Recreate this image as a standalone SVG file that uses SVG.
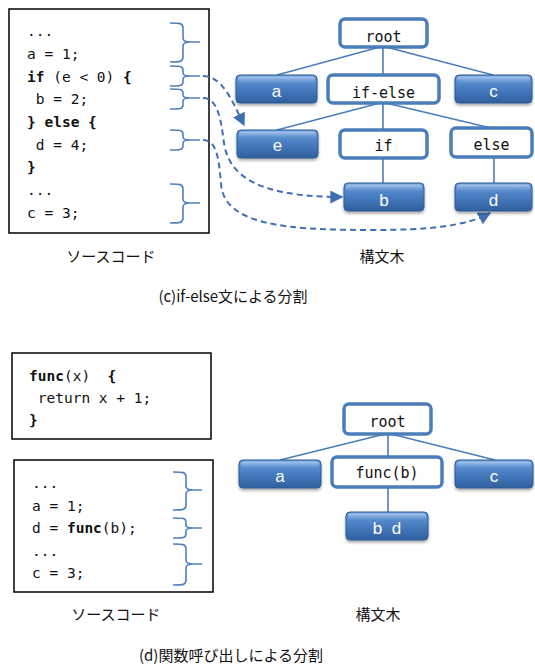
<svg xmlns="http://www.w3.org/2000/svg" width="535" height="666" viewBox="0 0 535 666">
  <defs>
    <style>
      .codebox { fill: #fff; stroke: #000; stroke-width: 1.5; }
      .code { font-family: "DejaVu Sans Mono", "Liberation Mono", monospace; font-size: 14.5px; fill: #111; }
      .b { font-weight: bold; }
      .brace { fill: none; stroke: #4f81bd; stroke-width: 1.6; }
      .edge { fill: none; stroke: #4a7ebb; stroke-width: 1.6; }
      .flow { fill: none; stroke: #3f6fb3; stroke-width: 2; stroke-dasharray: 6 4; }
      .inner rect { fill: #fff; stroke: #4a7ebb; stroke-width: 3.5; }
      .inner text { font-family: "DejaVu Sans Mono", "Liberation Mono", monospace; font-size: 15px; fill: #111; text-anchor: middle; }
      .leaf .body { fill: url(#leafFill); stroke: #2d5b93; stroke-width: 1; filter: url(#shadow); }
      .leaf .bevel { fill: url(#bevelFill); }
      .leaf text { font-family: "Liberation Sans", Arial, sans-serif; font-size: 17px; fill: #fff; text-anchor: middle; }
      .caption { font-family: "Noto Sans CJK JP", sans-serif; font-size: 15px; fill: #111; text-anchor: middle; }
    </style>
    <linearGradient id="leafFill" x1="0" y1="0" x2="0" y2="1">
      <stop offset="0" stop-color="#6c9ddb"/>
      <stop offset="0.45" stop-color="#4a7fc2"/>
      <stop offset="1" stop-color="#2f5f9e"/>
    </linearGradient>
    <linearGradient id="bevelFill" x1="0" y1="0" x2="0" y2="1">
      <stop offset="0" stop-color="#b6d0f0" stop-opacity="0.85"/>
      <stop offset="1" stop-color="#7ea8de" stop-opacity="0"/>
    </linearGradient>
    <filter id="shadow" x="-10%" y="-20%" width="120%" height="150%">
      <feDropShadow dx="0" dy="2" stdDeviation="1.5" flood-color="#000" flood-opacity="0.35"/>
    </filter>
    <marker id="arrow" viewBox="0 0 10 10" refX="9" refY="5" markerWidth="6.5" markerHeight="6.5" markerUnits="strokeWidth" orient="auto">
      <path d="M0,0 L10,5 L0,10 z" fill="#3f6fb3"/>
    </marker>
  </defs>

  <!-- ===== (c) if-else split ===== -->
  <g id="code-ifelse">
    <rect class="codebox" x="9" y="9" width="200" height="224"/>
    <text class="code" xml:space="preserve"><tspan x="27" y="36">...</tspan><tspan x="27" y="59">a = 1;</tspan><tspan x="27" y="82"><tspan class="b">if</tspan> (e &lt; 0) <tspan class="b">{</tspan></tspan><tspan x="27" y="104"> b = 2;</tspan><tspan x="27" y="127" class="b">} else {</tspan><tspan x="27" y="150"> d = 4;</tspan><tspan x="27" y="172" class="b">}</tspan><tspan x="27" y="195">...</tspan><tspan x="27" y="218">c = 3;</tspan></text>
  </g>

  <g id="braces-ifelse">
    <path class="brace" d="M170,23 C180,23 183,23 183,28 L183,38 C183,41 185,42 190,42 L200,42 M190,42 C185,42 183,43 183,46 L183,57 C183,62 180,62 170,62"/>
    <path class="brace" d="M170,66 C180,66 183,66 183,70 L183,73 C183,75 185,76 190,76 L200,76 M190,76 C185,76 183,77 183,79 L183,82 C183,86 180,86 170,86"/>
    <path class="brace" d="M170,89 C180,89 183,89 183,93 L183,95 C183,97 185,98 190,98 L200,98 M190,98 C185,98 183,99 183,101 L183,105 C183,109 180,109 170,109"/>
    <path class="brace" d="M170,130 C180,130 183,130 183,134 L183,137 C183,139 185,140 190,140 L200,140 M190,140 C185,140 183,141 183,143 L183,146 C183,150 180,150 170,150"/>
    <path class="brace" d="M170,184 C180,184 183,184 183,189 L183,199 C183,202 185,203 190,203 L200,203 M190,203 C185,203 183,204 183,207 L183,218 C183,223 180,223 170,223"/>
  </g>

  <g id="edges-ifelse">
    <line class="edge" x1="380" y1="47" x2="277" y2="75"/>
    <line class="edge" x1="383" y1="47" x2="383" y2="75"/>
    <line class="edge" x1="386" y1="47" x2="493" y2="75"/>
    <line class="edge" x1="380" y1="103" x2="277" y2="130"/>
    <line class="edge" x1="383" y1="103" x2="383" y2="130"/>
    <line class="edge" x1="386" y1="103" x2="491" y2="128"/>
    <line class="edge" x1="383" y1="158" x2="383" y2="183"/>
    <line class="edge" x1="494" y1="157" x2="494" y2="183"/>
  </g>

  <g id="flows-ifelse">
    <path class="flow" marker-end="url(#arrow)" d="M203,76 C222,76 232,100 244,125"/>
    <path class="flow" marker-end="url(#arrow)" d="M203,98 C218,98 221,120 224,143 C229,178 262,197 342,197"/>
    <path class="flow" marker-end="url(#arrow)" d="M203,140 C217,140 219,160 221,184 C224,226 290,230 372,230 C430,230 466,226 490,213"/>
  </g>

  <g id="t1-root" class="inner"><rect x="340" y="19" width="87" height="28" rx="5"/><text x="383.5" y="42">root</text></g>
  <g id="t1-a" class="leaf"><rect class="body" x="236" y="75" width="81" height="28" rx="4"/><rect class="bevel" x="238" y="76.5" width="77" height="7" rx="3"/><text x="276.5" y="97">a</text></g>
  <g id="t1-ifelse" class="inner"><rect x="328" y="75" width="111" height="28" rx="5"/><text x="383.5" y="98">if-else</text></g>
  <g id="t1-c" class="leaf"><rect class="body" x="455" y="75" width="77" height="28" rx="4"/><rect class="bevel" x="457" y="76.5" width="73" height="7" rx="3"/><text x="493.5" y="97">c</text></g>
  <g id="t1-e" class="leaf"><rect class="body" x="237" y="130" width="81" height="28" rx="4"/><rect class="bevel" x="239" y="131.5" width="77" height="7" rx="3"/><text x="277.5" y="151">e</text></g>
  <g id="t1-if" class="inner"><rect x="340" y="130" width="87" height="28" rx="5"/><text x="383.5" y="151">if</text></g>
  <g id="t1-else" class="inner"><rect x="451" y="128" width="81" height="29" rx="5"/><text x="491.5" y="150">else</text></g>
  <g id="t1-b" class="leaf"><rect class="body" x="344" y="183" width="80" height="28" rx="4"/><rect class="bevel" x="346" y="184.5" width="76" height="7" rx="3"/><text x="384" y="206">b</text></g>
  <g id="t1-d" class="leaf"><rect class="body" x="455" y="183" width="77" height="28" rx="4"/><rect class="bevel" x="457" y="184.5" width="73" height="7" rx="3"/><text x="493.5" y="206">d</text></g>

  <text class="caption" x="111" y="262">ソースコード</text>
  <text class="caption" x="382" y="262">構文木</text>
  <text class="caption" x="233" y="302">(c)if-else文による分割</text>

  <!-- ===== (d) function-call split ===== -->
  <g id="code-func">
    <rect class="codebox" x="12" y="353" width="199" height="86"/>
    <text class="code" xml:space="preserve"><tspan x="29" y="381"><tspan class="b">func</tspan>(x)  <tspan class="b">{</tspan></tspan><tspan x="29" y="403"> return x + 1;</tspan><tspan x="29" y="425" class="b">}</tspan></text>
  </g>

  <g id="code-call">
    <rect class="codebox" x="14" y="460" width="199" height="132"/>
    <text class="code" xml:space="preserve"><tspan x="32" y="488">...</tspan><tspan x="32" y="511">a = 1;</tspan><tspan x="32" y="533">d = <tspan class="b">func</tspan>(b);</tspan><tspan x="32" y="556">...</tspan><tspan x="32" y="578">c = 3;</tspan></text>
  </g>

  <g id="braces-func">
    <path class="brace" d="M173,472 C183,472 186,472 186,477 L186,486 C186,489 188,490 193,490 L202,490 M193,490 C188,490 186,491 186,494 L186,505 C186,510 183,510 173,510"/>
    <path class="brace" d="M173,518 C183,518 186,518 186,522 L186,525 C186,527 188,528 193,528 L202,528 M193,528 C188,528 186,529 186,531 L186,534 C186,538 183,538 173,538"/>
    <path class="brace" d="M173,544 C183,544 186,544 186,549 L186,560 C186,563 188,564 193,564 L202,564 M193,564 C188,564 186,565 186,568 L186,580 C186,585 183,585 173,585"/>
  </g>

  <g id="edges-func">
    <line class="edge" x1="385" y1="434" x2="280" y2="460"/>
    <line class="edge" x1="388" y1="434" x2="388" y2="457"/>
    <line class="edge" x1="391" y1="434" x2="495" y2="460"/>
    <line class="edge" x1="388" y1="487" x2="388" y2="512"/>
  </g>

  <g id="t2-root" class="inner"><rect x="344" y="404" width="87" height="30" rx="5"/><text x="387.5" y="427">root</text></g>
  <g id="t2-a" class="leaf"><rect class="body" x="239" y="460" width="82" height="28" rx="4"/><rect class="bevel" x="241" y="461.5" width="78" height="7" rx="3"/><text x="280" y="482">a</text></g>
  <g id="t2-func" class="inner"><rect x="332" y="457" width="110" height="30" rx="5"/><text x="387" y="478">func(b)</text></g>
  <g id="t2-c" class="leaf"><rect class="body" x="455" y="460" width="78" height="28" rx="4"/><rect class="bevel" x="457" y="461.5" width="74" height="7" rx="3"/><text x="494" y="482">c</text></g>
  <g id="t2-bd" class="leaf"><rect class="body" x="346" y="512" width="82" height="28" rx="4"/><rect class="bevel" x="348" y="513.5" width="78" height="7" rx="3"/><text x="387" y="534" xml:space="preserve">b  d</text></g>

  <text class="caption" x="116" y="620">ソースコード</text>
  <text class="caption" x="378" y="620">構文木</text>
  <text class="caption" x="231" y="661">(d)関数呼び出しによる分割</text>
</svg>
